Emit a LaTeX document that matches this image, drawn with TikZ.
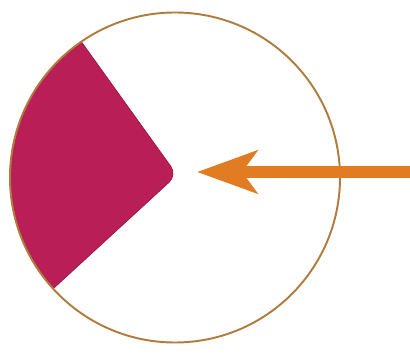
\documentclass[tikz,border=0pt]{standalone}
\usepackage{tikz}
\usetikzlibrary{arrows.meta,calc}
\usepackage{xcolor}
\definecolor{rimBrown}{RGB}{176,124,62}
\definecolor{crimson}{RGB}{186,30,86}
\definecolor{arrowOrange}{RGB}{226,124,34}

\begin{document}
\begin{tikzpicture}[
    circleStyle/.style={draw=rimBrown, line width=1.1pt},
    sectorStyle/.style={fill=crimson, draw=crimson!80!black, line width=0.4pt},
    arrowStyle/.style={-{Stealth[length=1.2cm, width=0.85cm, inset=0.3cm]}, draw=arrowOrange, line width=6.5pt}
]
    \useasboundingbox (0,0) rectangle (8.2,-7.08);

    \coordinate (rim) at (3.5,-3.55);
    \coordinate (apex) at (3.54,-3.5);
    \coordinate (arrowStart) at (8.2,-3.44);
    \coordinate (arrowEnd) at (3.94,-3.44);

    % sector on the left, apex a little rounded
    \fill[sectorStyle] ($(rim)+(124.6:3.3)$) [rounded corners=6pt] -- (apex) [sharp corners] -- ($(rim)+(222.4:3.3)$)
        arc[start angle=222.4, end angle=124.6, radius=3.3] -- cycle;

    % outline
    \draw[circleStyle] (rim) circle[radius=3.3];

    \draw[arrowStyle] (arrowStart) -- (arrowEnd);
\end{tikzpicture}
\end{document}
